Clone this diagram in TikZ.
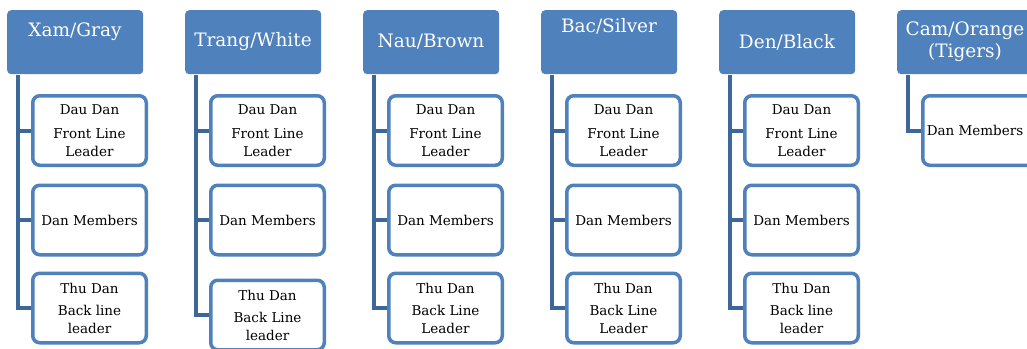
\documentclass[tikz,border=0pt]{standalone}
\usepackage{fontspec}
\setmainfont{DejaVu Serif}
\definecolor{hblue}{HTML}{4F81BD}
\definecolor{cblue}{HTML}{3D6799}
\tikzset{
  hdr/.style={fill=hblue, rounded corners=4pt, minimum width=136pt, minimum height=64pt, inner sep=0pt, anchor=north west},
  kid/.style={draw=hblue, line width=3.5pt, fill=white, rounded corners=7pt, minimum width=113.5pt, minimum height=69.5pt, inner sep=0pt},
  htxt/.style={text=white, font=\fontsize{18.5}{22}\selectfont, align=center, inner sep=0pt},
  ktxt/.style={text=black, font=\fontsize{13.5}{17.5}\selectfont, align=center, inner sep=0pt},
  conn/.style={draw=cblue, line width=4pt}
}
\begin{document}
\begin{tikzpicture}[x=1pt,y=-1pt]
\useasboundingbox (0,0) rectangle (1027,348);
\clip (0,0) rectangle (1027,348);
\fill[white] (0,0) rectangle (1027,348);
% headers
\node[hdr] (h1) at (7,10) {};
\node[hdr] (h2) at (185,10) {};
\node[hdr] (h3) at (363,10) {};
\node[hdr] (h4) at (541,10) {};
\node[hdr] (h5) at (719,10) {};
\node[hdr] (h6) at (897,10) {};
\node[htxt] (t1) at (75,32) {Xam/Gray};
\node[htxt] (t2) at (253,42) {Trang/White};
\node[htxt] (t3) at (431,42) {Nau/Brown};
\node[htxt] (t4) at (609,26) {Bac/Silver};
\node[htxt] (t5) at (787,42) {Den/Black};
\node[htxt] (t6a) at (965,31) {Cam/Orange};
\node[htxt] (t6b) at (965,53) {(Tigers)};
% trunk tops
\coordinate (v1) at (18,75);
\coordinate (v2) at (196,75);
\coordinate (v3) at (374,75);
\coordinate (v4) at (552,75);
\coordinate (v5) at (730,75);
\coordinate (v6) at (908,75);
% column 1
\node[kid] (c11) at (89.5,130.5) {};
\node[kid] (c12) at (89.5,220) {};
\node[kid] (c13) at (89.5,308) {};
% column 2
\node[kid] (c21) at (267.5,130.5) {};
\node[kid] (c22) at (267.5,220) {};
\node[kid] (c23) at (267.5,315) {};
% column 3
\node[kid] (c31) at (445.5,130.5) {};
\node[kid] (c32) at (445.5,220) {};
\node[kid] (c33) at (445.5,308) {};
% column 4
\node[kid] (c41) at (623.5,130.5) {};
\node[kid] (c42) at (623.5,220) {};
\node[kid] (c43) at (623.5,308) {};
% column 5
\node[kid] (c51) at (801.5,130.5) {};
\node[kid] (c52) at (801.5,220) {};
\node[kid] (c53) at (801.5,308) {};
% column 6
\node[kid] (c61) at (979.5,130.5) {};
% connectors
\foreach \i in {1,...,5}{
  \draw[conn] (v\i) |- (c\i3.west);
  \draw[conn] (v\i |- c\i1.west) -- (c\i1.west);
  \draw[conn] (v\i |- c\i2.west) -- (c\i2.west);
}
\draw[conn] (v6) |- (c61.west);
% texts
\node[ktxt] (k11) at (c11) {Dau Dan\\[6.5pt]Front Line\\Leader};
\node[ktxt] (k12) at (c12) {Dan Members};
\node[ktxt] (k13) at (c13) {Thu Dan\\[5pt]Back line\\leader};
\node[ktxt] (k21) at (c21) {Dau Dan\\[6.5pt]Front Line\\Leader};
\node[ktxt] (k22) at (c22) {Dan Members};
\node[ktxt] (k23) at (c23) {Thu Dan\\[5pt]Back Line\\leader};
\node[ktxt] (k31) at (c31) {Dau Dan\\[6.5pt]Front Line\\Leader};
\node[ktxt] (k32) at (c32) {Dan Members};
\node[ktxt] (k33) at (c33) {Thu Dan\\[5pt]Back Line\\Leader};
\node[ktxt] (k41) at (c41) {Dau Dan\\[6.5pt]Front Line\\Leader};
\node[ktxt] (k42) at (c42) {Dan Members};
\node[ktxt] (k43) at (c43) {Thu Dan\\[5pt]Back Line\\Leader};
\node[ktxt] (k51) at (c51) {Dau Dan\\[6.5pt]Front Line\\Leader};
\node[ktxt] (k52) at (c52) {Dan Members};
\node[ktxt] (k53) at (c53) {Thu Dan\\[5pt]Back line\\leader};
\node[ktxt] (k61) at (975,130.5) {Dan Members};
\end{tikzpicture}
\end{document}
